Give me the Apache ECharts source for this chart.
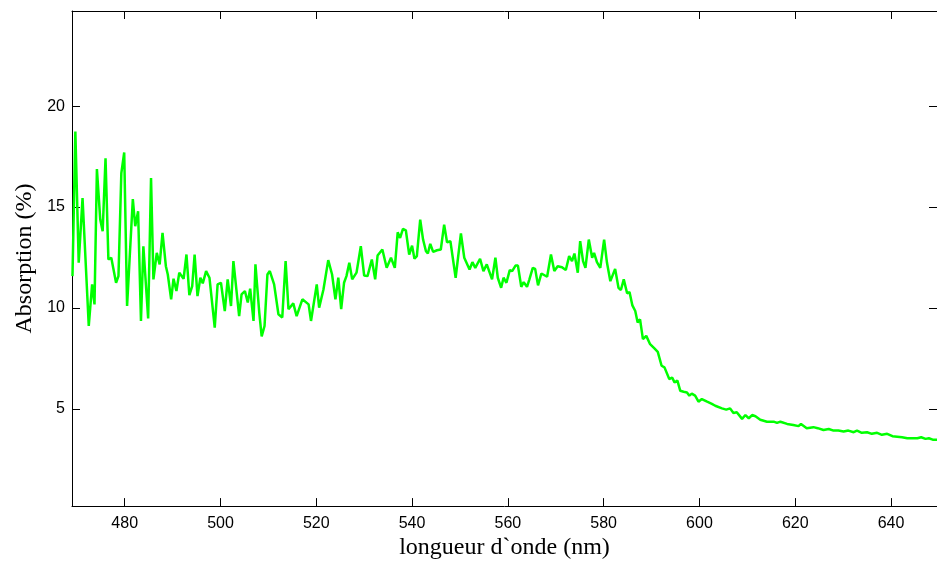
<!DOCTYPE html>
<html>
<head>
<meta charset="utf-8">
<script src="https://cdn.jsdelivr.net/npm/echarts@6/dist/echarts.min.js"></script>
<style>html,body{margin:0;padding:0;background:#fff}#c{width:937px;height:565px}</style>
</head>
<body>
<div id="c"></div>
<script>
const wavelength = [469.1,469.7,470.4,471.2,472.5,473.2,473.7,474.2,474.9,475.4,476.0,476.6,477.2,478.2,478.7,479.3,479.9,480.5,481.7,482.2,482.8,483.4,483.9,484.9,485.5,486.0,486.7,487.3,487.9,488.6,489.0,489.7,490.2,490.8,491.4,492.3,492.9,493.5,494.1,494.6,495.2,495.8,496.3,497.0,497.7,498.8,499.4,500.1,500.9,501.5,502.2,502.7,503.9,504.4,505.1,505.7,506.2,506.9,507.3,508.1,508.6,509.2,509.8,510.3,511.2,512.1,512.9,513.6,514.2,515.2,515.9,517.1,518.4,518.9,520.1,520.6,521.5,521.9,522.5,523.3,524.0,524.6,525.2,525.8,526.3,526.9,527.5,528.4,529.3,530.0,530.7,531.6,532.3,532.8,533.8,534.7,535.6,536.4,537.0,537.5,538.1,538.7,539.4,540.0,540.5,541.0,541.7,542.3,542.9,543.3,543.8,544.4,545.2,546.0,546.7,547.3,548.0,549.1,550.2,550.9,552.0,552.6,553.2,554.2,554.9,555.6,556.7,557.4,557.9,558.6,559.1,559.7,560.4,560.9,561.6,562.1,562.8,563.3,564.0,564.5,565.2,565.7,566.3,567.0,568.2,569.0,569.7,570.4,571.3,572.1,572.8,573.4,573.9,574.6,575.1,575.7,576.2,576.9,577.6,578.0,578.6,579.3,580.1,580.7,581.4,582.4,583.1,583.6,584.2,584.9,585.4,586.0,586.6,587.1,587.6,588.2,588.9,589.7,590.6,591.3,592.1,592.7,593.7,594.3,594.8,595.4,596.0,596.7,597.4,597.9,598.4,599.1,599.8,600.5,601.6,602.6,603.3,603.7,604.7,605.6,606.4,607.1,607.8,608.9,609.6,610.3,611.0,611.7,612.7,614.1,615.5,616.2,616.9,618.3,619.6,620.7,621.2,622.4,623.8,624.7,625.9,627.0,628.0,629.0,630.1,631.1,632.2,632.9,633.9,635.0,636.0,637.1,638.1,639.2,640.3,641.3,642.3,643.4,644.4,645.5,646.3,647.2,647.9,648.7,649.6];
const absorption = [11.58,18.74,12.24,15.45,9.11,11.17,10.18,16.88,14.38,13.8,17.42,12.4,12.49,11.25,11.58,16.68,17.7,10.1,15.4,14.05,14.79,9.36,13.06,9.48,16.44,11.42,12.73,12.16,13.72,12.07,11.66,10.43,11.45,10.84,11.75,11.45,12.65,10.64,11.09,12.65,10.59,11.5,11.22,11.83,11.5,9.03,11.17,11.25,9.85,11.42,10.1,12.32,9.6,10.68,10.84,10.27,10.96,9.36,12.16,9.77,8.59,9.11,11.66,11.83,11.17,9.69,9.53,12.32,9.94,10.23,9.6,10.43,10.18,9.36,11.17,10.02,10.92,11.0,12.37,11.66,10.43,11.5,9.94,11.25,11.58,12.24,11.42,11.75,13.06,11.61,11.58,12.4,11.42,12.6,12.9,11.99,12.49,11.99,13.75,13.47,13.92,13.85,12.65,13.09,12.44,12.57,14.38,13.39,12.81,12.7,13.18,12.78,12.86,12.9,14.13,13.26,13.31,11.5,13.69,12.49,11.91,12.27,11.99,12.44,11.83,12.16,11.42,12.49,11.5,11.0,11.5,11.25,11.88,11.83,12.1,12.1,11.05,11.28,11.05,11.42,11.99,11.94,11.12,11.71,11.55,12.65,11.83,12.07,12.02,11.88,12.57,12.32,12.7,11.75,13.31,12.32,11.99,13.39,12.49,12.73,12.27,11.99,13.39,12.24,11.33,11.94,11.0,10.89,11.42,10.73,10.79,10.13,9.85,9.28,9.44,8.46,8.62,8.21,8.0,7.83,7.14,7.06,6.48,6.56,6.32,6.4,5.9,5.85,5.82,5.66,5.76,5.66,5.36,5.49,5.36,5.25,5.16,5.08,5.03,4.97,5.03,4.8,4.84,4.51,4.7,4.54,4.7,4.64,4.47,4.37,4.37,4.31,4.37,4.26,4.21,4.15,4.26,4.05,4.1,4.05,3.96,4.01,3.93,3.93,3.88,3.93,3.85,3.93,3.82,3.85,3.77,3.82,3.72,3.77,3.65,3.63,3.6,3.55,3.55,3.55,3.6,3.52,3.55,3.48,3.48];
const xTicks = [480,500,520,540,560,580,600,620,640];
const yTicks = [5,10,15,20];

const chart = echarts.init(document.getElementById('c'), null, {renderer: 'canvas'});
const lineCol = '#000';
const tickFont = {fontFamily: 'Liberation Sans, Arial, sans-serif', fontSize: 16, color: '#000'};
const nameFont = {fontFamily: 'Liberation Serif, Times New Roman, serif', fontSize: 24, color: '#000'};
const xMin = 469, xMax = 649.6, yMin = 0.19, yMax = 24.71;

chart.setOption({
  animation: false,
  backgroundColor: '#fff',
  grid: {left: 72, right: 0, top: 11, bottom: 57, containLabel: false},
  xAxis: [
    {type: 'value', position: 'bottom', min: xMin, max: xMax,
     name: 'longueur d`onde (nm)', nameLocation: 'middle', nameGap: 28, nameTextStyle: nameFont,
     axisLine: {show: true, onZero: false, lineStyle: {color: lineCol, width: 1}},
     axisTick: {show: true, inside: true, length: 8, customValues: xTicks, lineStyle: {color: lineCol}},
     axisLabel: {show: true, customValues: xTicks, margin: 9, ...tickFont},
     splitLine: {show: false}},
    {type: 'value', position: 'top', min: xMin, max: xMax,
     axisLine: {show: true, onZero: false, lineStyle: {color: lineCol, width: 1}},
     axisTick: {show: true, inside: true, length: 8, customValues: xTicks, lineStyle: {color: lineCol}},
     axisLabel: {show: false},
     splitLine: {show: false}}
  ],
  yAxis: [
    {type: 'value', position: 'left', min: yMin, max: yMax,
     name: 'Absorption (%)', nameLocation: 'middle', nameGap: 35, nameTextStyle: nameFont,
     axisLine: {show: true, onZero: false, lineStyle: {color: lineCol, width: 1}},
     axisTick: {show: true, inside: true, length: 8, customValues: yTicks, lineStyle: {color: lineCol}},
     axisLabel: {show: true, customValues: yTicks, margin: 7, ...tickFont},
     splitLine: {show: false}},
    {type: 'value', position: 'right', min: yMin, max: yMax,
     axisLine: {show: true, onZero: false, lineStyle: {color: lineCol, width: 1}},
     axisTick: {show: true, inside: true, length: 8, customValues: yTicks, lineStyle: {color: lineCol}},
     axisLabel: {show: false},
     splitLine: {show: false}}
  ],
  series: [{
    type: 'line',
    xAxisIndex: 0, yAxisIndex: 0,
    data: wavelength.map((w, i) => [w, absorption[i]]),
    showSymbol: false,
    lineStyle: {color: '#00ff00', width: 2.5},
    itemStyle: {color: '#00ff00'}
  }]
});
</script>
</body>
</html>
